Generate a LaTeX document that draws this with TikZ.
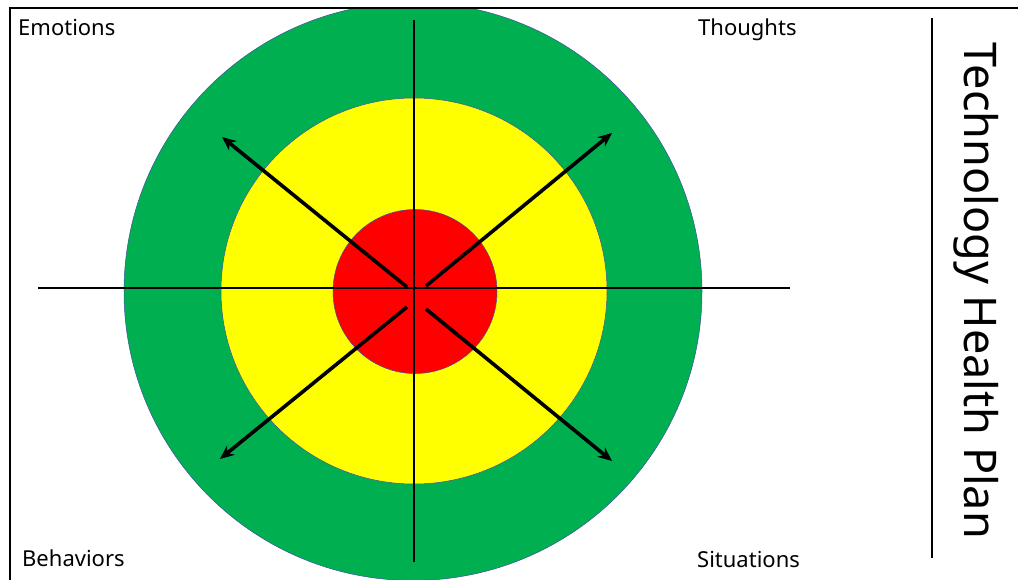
\documentclass[tikz,border=0pt]{standalone}
\usepackage{fontspec}
\setmainfont{Noto Sans}
\usetikzlibrary{arrows.meta,positioning,calc}

\definecolor{ringgreen}{RGB}{0,176,80}
\definecolor{ringyellow}{RGB}{255,255,0}
\definecolor{ringred}{RGB}{255,0,0}
\definecolor{ringedge}{RGB}{60,80,160}

\begin{document}
\begin{tikzpicture}[x=1pt, y=-1pt,
  ring/.style={circle, draw=ringedge, line width=0.5pt, inner sep=0pt},
  axis/.style={line width=2pt},
  pointer/.style={line width=3.6pt, -{Stealth[length=14pt, width=12pt]}},
  corner/.style={font=\fontsize{22}{26}\selectfont, inner sep=0pt, anchor=base west}]
  \useasboundingbox (0,0) rectangle (1018,579);

  % target rings
  \begin{scope}
    \clip (10,8) rectangle (1020,581);
    \node[ring, fill=ringgreen, minimum size=578pt] (outer) at (413,291.5) {};
    \node[ring, fill=ringyellow, minimum size=386pt] (middle) at (414,291) {};
    \node[ring, fill=ringred, minimum size=164pt] (inner) at (415,291.5) {};
  \end{scope}

  % frame
  \draw[line width=2.4pt] (10,580) -- (10,8) -- (1020,8);

  % axes
  \coordinate (axW) at (38,288);
  \coordinate (axE) at (790,288);
  \coordinate (axN) at (414,20);
  \coordinate (axS) at (414,562);
  \draw[axis] (axW) -- (axE);
  \draw[axis] (axN) -- (axS);

  % arrows
  \coordinate (ulS) at (407,287);
  \coordinate (urS) at (426,286);
  \coordinate (llS) at (407,307);
  \coordinate (lrS) at (426,309);
  \coordinate (ulE) at (222,137);
  \coordinate (urE) at (612,133);
  \coordinate (llE) at (220,459);
  \coordinate (lrE) at (612,461);
  \draw[pointer] (ulS) -- (ulE);
  \draw[pointer] (urS) -- (urE);
  \draw[pointer] (llS) -- (llE);
  \draw[pointer] (lrS) -- (lrE);

  % labels
  \node[corner] (emotions) at (18,35) {Emotions};
  \node[corner] (thoughts) at (698,35) {Thoughts};
  \node[corner] (behaviors) at (22,566) {Behaviors};
  \node[corner] (situations) at (697,567) {Situations};

  % title
  \coordinate (barN) at (932,18);
  \coordinate (barS) at (932,558);
  \draw[line width=2pt] (barN) -- (barS);
  \node[rotate=-90, inner sep=0pt, font=\fontsize{45}{50}\selectfont] (title) at (976,291) {Technology Health Plan};
\end{tikzpicture}
\end{document}
